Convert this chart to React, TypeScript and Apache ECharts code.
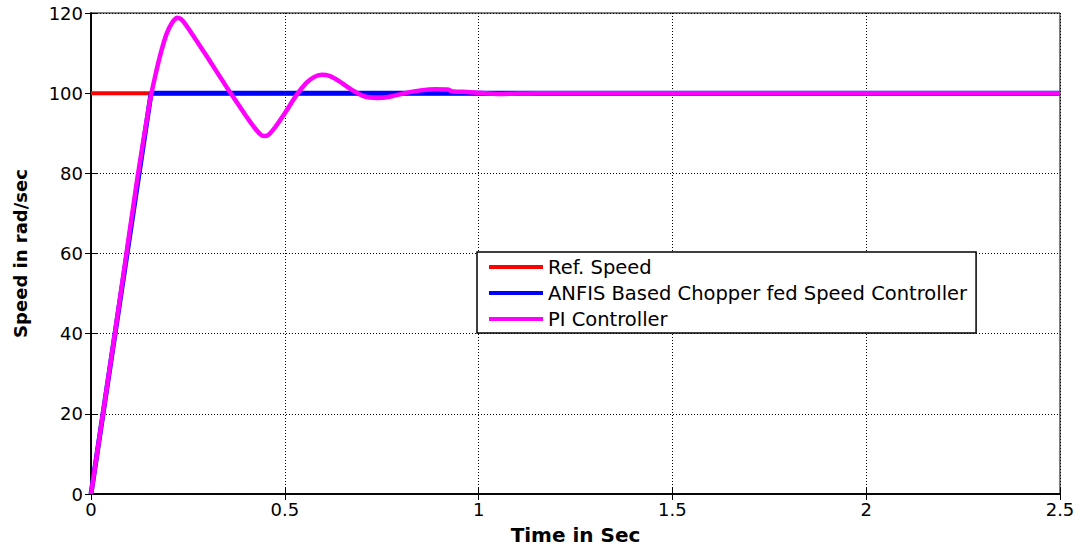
import React, { useEffect, useRef } from "react";
import * as echarts from "echarts";

const refT = [0, 2.5];
const refV = [100, 100];
const anfisT = [0, 0.155, 2.5];
const anfisV = [0, 100, 100];
const piT = [0, 0.03, 0.06, 0.09, 0.12, 0.15, 0.165, 0.18, 0.195, 0.21, 0.222, 0.232, 0.245, 0.3, 0.35, 0.4, 0.425, 0.44, 0.45, 0.46, 0.475, 0.5, 0.53, 0.555, 0.575, 0.595, 0.615, 0.64, 0.67, 0.7, 0.72, 0.74, 0.77, 0.81, 0.85, 0.89, 0.92, 0.935, 0.97, 1.0, 1.05, 1.1, 1.15, 2.5];
const piV = [0, 19.5, 39, 59, 79, 97, 104, 110, 114.8, 117.7, 118.8, 118.5, 117, 109, 101.5, 94.3, 91, 89.5, 89.3, 89.8, 91.5, 95, 99.5, 102.5, 104, 104.6, 104.3, 103, 101, 99.4, 98.9, 98.8, 99.1, 100, 100.7, 101, 100.9, 100.4, 100.3, 100.1, 99.8, 99.9, 100, 100];
const seriesNames = ["Ref. Speed", "ANFIS Based Chopper fed Speed Controller", "PI Controller"];

const zip = (t: number[], v: number[]) => t.map((x, i) => [x, v[i]]);

export default function App() {
  const ref = useRef<HTMLDivElement>(null);
  useEffect(() => {
    document.body.style.margin = "0";
    const chart = echarts.init(ref.current!, null, { renderer: "svg" });
    const font = "'DejaVu Sans', Arial, sans-serif";
    chart.setOption({
      animation: false,
      backgroundColor: "#fff",
      grid: { left: 91, top: 13, right: 20, bottom: 54, show: true, borderColor: "#000", borderWidth: 1, backgroundColor: "#fff" },
      legend: {
        orient: "vertical",
        left: 477,
        top: 252,
        padding: [5, 9, 4, 12],
        itemGap: 6,
        itemWidth: 54,
        itemHeight: 4,
        icon: "rect",
        borderColor: "#000",
        borderWidth: 1.5,
        backgroundColor: "#fff",
        textStyle: { fontFamily: font, fontSize: 19.5, color: "#000", lineHeight: 20 },
        data: seriesNames,
      },
      xAxis: [
        {
          type: "value",
          min: 0,
          max: 2.5,
          interval: 0.5,
          name: "Time in Sec",
          nameLocation: "middle",
          nameGap: 31,
          nameTextStyle: { fontFamily: font, fontSize: 20, fontWeight: "bold", color: "#000" },
          axisLine: { show: true, lineStyle: { color: "#000", width: 1.5 } },
          axisTick: { show: true, inside: true, length: 6, lineStyle: { color: "#000" } },
          axisLabel: { fontFamily: font, fontSize: 18, color: "#000", margin: 6, formatter: (v: number) => String(v) },
          splitLine: { show: true, lineStyle: { color: "#000", type: [1, 2], width: 1 } },
        },
        {
          type: "value",
          position: "top",
          min: 0,
          max: 2.5,
          interval: 0.5,
          axisLine: { show: true, lineStyle: { color: "#000", width: 1.5 } },
          axisTick: { show: true, inside: true, length: 6, lineStyle: { color: "#000" } },
          axisLabel: { show: false },
          splitLine: { show: false },
        },
      ],
      yAxis: [
        {
          type: "value",
          min: 0,
          max: 120,
          interval: 20,
          name: "Speed in rad/sec",
          nameLocation: "middle",
          nameGap: 62,
          nameTextStyle: { fontFamily: font, fontSize: 18, fontWeight: "bold", color: "#000" },
          axisLine: { show: true, lineStyle: { color: "#000", width: 1.5 } },
          axisTick: { show: true, inside: true, length: 6, lineStyle: { color: "#000" } },
          axisLabel: { fontFamily: font, fontSize: 18, color: "#000", margin: 8 },
          splitLine: { show: true, lineStyle: { color: "#000", type: [1, 2], width: 1 } },
        },
        {
          type: "value",
          position: "right",
          min: 0,
          max: 120,
          interval: 20,
          axisLine: { show: true, lineStyle: { color: "#000", width: 1.5 } },
          axisTick: { show: true, inside: true, length: 6, lineStyle: { color: "#000" } },
          axisLabel: { show: false },
          splitLine: { show: false },
        },
      ],
      series: [
        { name: seriesNames[0], type: "line", data: zip(refT, refV), showSymbol: false, symbol: "none", lineStyle: { color: "#ff0000", width: 4 }, itemStyle: { color: "#ff0000" } },
        { name: seriesNames[1], type: "line", data: zip(anfisT, anfisV), showSymbol: false, symbol: "none", lineStyle: { color: "#0000ff", width: 5 }, itemStyle: { color: "#0000ff" } },
        { name: seriesNames[2], type: "line", data: zip(piT, piV), smooth: 0.2, showSymbol: false, symbol: "none", lineStyle: { color: "#ff00ff", width: 4.5 }, itemStyle: { color: "#ff00ff" } },
      ],
    });
    return () => chart.dispose();
  }, []);
  return <div ref={ref} style={{ width: 1080, height: 550 }} />;
}
